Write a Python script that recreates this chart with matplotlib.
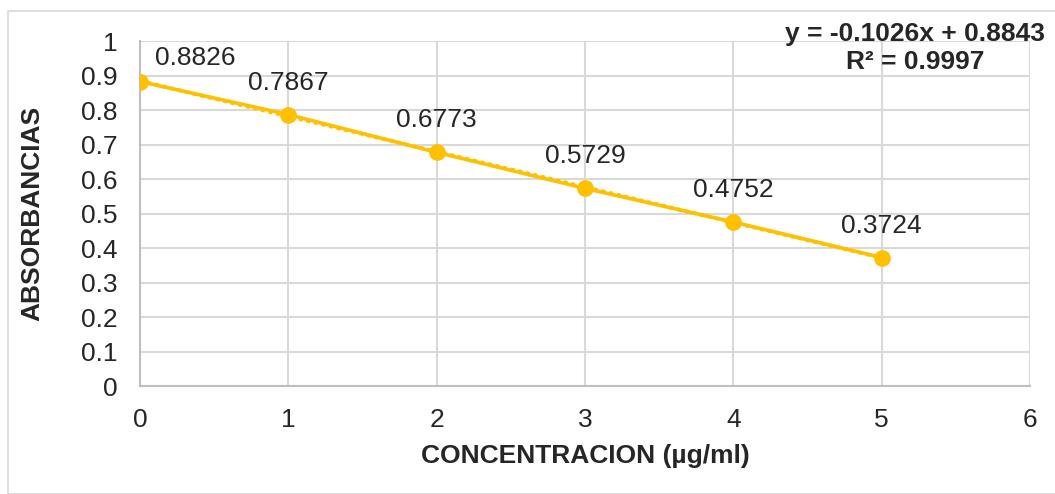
import matplotlib
matplotlib.use("Agg")
import matplotlib.pyplot as plt
import numpy as np
from matplotlib.patches import Rectangle

plt.rcParams['font.family'] = ['Liberation Sans', 'DejaVu Sans']

concentracion = [0, 1, 2, 3, 4, 5]
absorbancias = [0.8826, 0.7867, 0.6773, 0.5729, 0.4752, 0.3724]
etiquetas = ["0.8826", "0.7867", "0.6773", "0.5729", "0.4752", "0.3724"]
x_ticks = [0, 1, 2, 3, 4, 5, 6]
y_ticks = [0, 0.1, 0.2, 0.3, 0.4, 0.5, 0.6, 0.7, 0.8, 0.9, 1]
y_tick_labels = ["0", "0.1", "0.2", "0.3", "0.4", "0.5", "0.6", "0.7", "0.8", "0.9", "1"]

color = "#FFC000"
grid_color = "#D9D9D9"
text_color = "#262626"
fs = 19

fig = plt.figure(figsize=(10.55, 4.94), dpi=100)
fig.patches.append(Rectangle((8 / 1055, 0), 1.0, 1 - 11 / 494, transform=fig.transFigure,
                             fill=False, edgecolor=grid_color, linewidth=1.2))
ax = fig.add_axes([140 / 1055, 1 - 386 / 494, 890 / 1055, 345 / 494])

# linear trendline (dotted, under the series line)
m, b = np.polyfit(concentracion, absorbancias, 1)
xs = np.array([concentracion[0], concentracion[-1]])
ax.plot(xs, m * xs + b, color=color, linestyle=(0, (1, 1)), linewidth=2.8, zorder=2)

ax.plot(concentracion, absorbancias, color=color, linewidth=2.6, marker="o",
        markersize=11, zorder=3)

for i, (x, y, t) in enumerate(zip(concentracion, absorbancias, etiquetas)):
    if i == 0:
        ax.annotate(t, (x, y), xytext=(11, 12), textcoords="offset points",
                    ha="left", va="baseline", fontsize=fs, color=text_color)
    else:
        ax.annotate(t, (x, y), xytext=(0, 18), textcoords="offset points",
                    ha="center", va="baseline", fontsize=fs, color=text_color)

ax.set_xlim(0, 6)
ax.set_ylim(0, 1)
ax.set_xticks(x_ticks)
ax.set_yticks(y_ticks)
ax.set_yticklabels(y_tick_labels)
ax.tick_params(length=0, labelsize=fs, labelcolor=text_color)
ax.tick_params(axis="y", pad=16)
ax.tick_params(axis="x", pad=16)
ax.grid(True, color=grid_color, linewidth=1.5)
ax.set_axisbelow(True)
for s in ["top", "right"]:
    ax.spines[s].set_visible(False)
for s in ["left", "bottom"]:
    ax.spines[s].set_color("#BFBFBF")
    ax.spines[s].set_linewidth(1.5)

ax.set_xlabel("CONCENTRACION (µg/ml)", fontsize=fs, fontweight="bold", color=text_color)
ax.set_ylabel("ABSORBANCIAS", fontsize=fs, fontweight="bold", color=text_color)
ax.xaxis.set_label_coords(0.5, (386 - 444) / 345)
ax.yaxis.set_label_coords((44 - 140) / 890, 0.5)

fig.text(915 / 1055, 1 - 48 / 494, "y = -0.1026x + 0.8843\nR² = 0.9997", ha="center", va="center",
         fontsize=fs, fontweight="bold", color=text_color, linespacing=1.22)

fig.savefig("out.png", dpi=100)
